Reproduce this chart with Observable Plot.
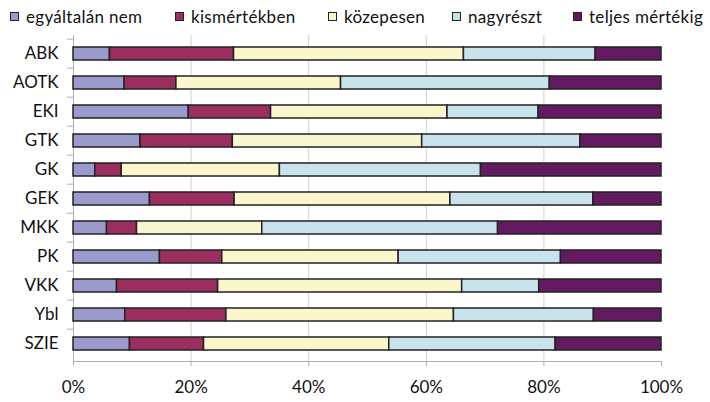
<!DOCTYPE html>
<html><head><meta charset="utf-8">
<script src="https://cdn.jsdelivr.net/npm/d3@7"></script>
<script src="https://cdn.jsdelivr.net/npm/@observablehq/plot@0.6"></script>
<style>
body{margin:0;background:#fff;font-family:Lato,"Open Sans",sans-serif;}
#legend{position:relative;height:32px;font-size:17px;letter-spacing:0.3px;color:#111;}
.item{position:absolute;top:6px;display:flex;align-items:center;white-space:nowrap;}
.sw{width:7px;height:7px;border:1px solid #222;margin-right:7px;}
</style></head><body>
<div id="legend"></div><div id="chart"></div>
<script>
const categories = ["ABK","AOTK","EKI","GTK","GK","GEK","MKK","PK","VKK","Ybl","SZIE"];
const series = ["egyáltalán nem","kismértékben","közepesen","nagyrészt","teljes mértékig"];
const colors = ["#9a9acc","#9b2d5f","#fbf7cc","#c9e3ec","#641a60"];
const egyaltalanNem = [6.2, 8.7, 19.6, 11.4, 3.7, 13.0, 5.7, 14.7, 7.4, 8.8, 9.6];
const kismertekben  = [21.1, 8.8, 14.0, 15.7, 4.5, 14.4, 5.1, 10.6, 17.2, 17.2, 12.6];
const kozepesen     = [39.1, 28.0, 30.0, 32.2, 26.9, 36.7, 21.3, 30.0, 41.5, 38.7, 31.5];
const nagyreszt     = [22.4, 35.5, 15.5, 26.9, 34.2, 24.3, 40.1, 27.6, 13.1, 23.8, 28.3];
const teljesen      = [11.2, 19.0, 20.9, 13.8, 30.7, 11.6, 27.8, 17.1, 20.8, 11.5, 18.0];
const xTicks = [0, 20, 40, 60, 80, 100];
const gridTicks = [20, 40, 60, 80];

const seriesValues = [egyaltalanNem, kismertekben, kozepesen, nagyreszt, teljesen];
const data = [];
series.forEach((s, si) => categories.forEach((c, ci) => data.push({cat: c, series: s, value: seriesValues[si][ci]})));

// legend
const legendLeft = [10, 175, 328, 452, 573];
const leg = document.getElementById("legend");
series.forEach((s, i) => {
  const it = document.createElement("div");
  it.className = "item";
  it.style.left = legendLeft[i] + "px";
  const sw = document.createElement("span");
  sw.className = "sw";
  sw.style.background = colors[i];
  const t = document.createElement("span");
  t.textContent = s;
  it.appendChild(sw); it.appendChild(t);
  leg.appendChild(it);
});

const step = (361 - 35) / categories.length;
const chart = Plot.plot({
  width: 710,
  height: 370,
  marginTop: 3,
  marginBottom: 41,
  marginLeft: 73,
  marginRight: 49,
  style: {fontFamily: "Lato, 'Open Sans', sans-serif", fontSize: "17px", color: "#111", background: "#fff"},
  x: {domain: [0, 100]},
  y: {domain: categories, paddingInner: 0.56, paddingOuter: 0.28},
  color: {domain: series, range: colors},
  marks: [
    Plot.gridX(gridTicks, {stroke: "#d0d0d0", strokeOpacity: 1, strokeWidth: 1}),
    Plot.frame({anchor: "left", stroke: "#b0b0b0"}),
    Plot.frame({anchor: "bottom", stroke: "#b0b0b0"}),
    Plot.axisY({tickSize: 0, tickPadding: 15, label: null, fontSize: 17}),
    Plot.axisY({text: null, tickSize: 6, dy: -step / 2, stroke: "#b0b0b0", label: null}),
    Plot.axisX(xTicks, {tickSize: 5, tickPadding: 14, stroke: "#b0b0b0", label: null, tickFormat: d => d + "%", fontSize: 17}),
    Plot.barX(data, Plot.stackX({y: "cat", x: "value", fill: "series", stroke: "#222", strokeWidth: 1.5}))
  ]
});
document.getElementById("chart").appendChild(chart);
</script>
</body></html>
